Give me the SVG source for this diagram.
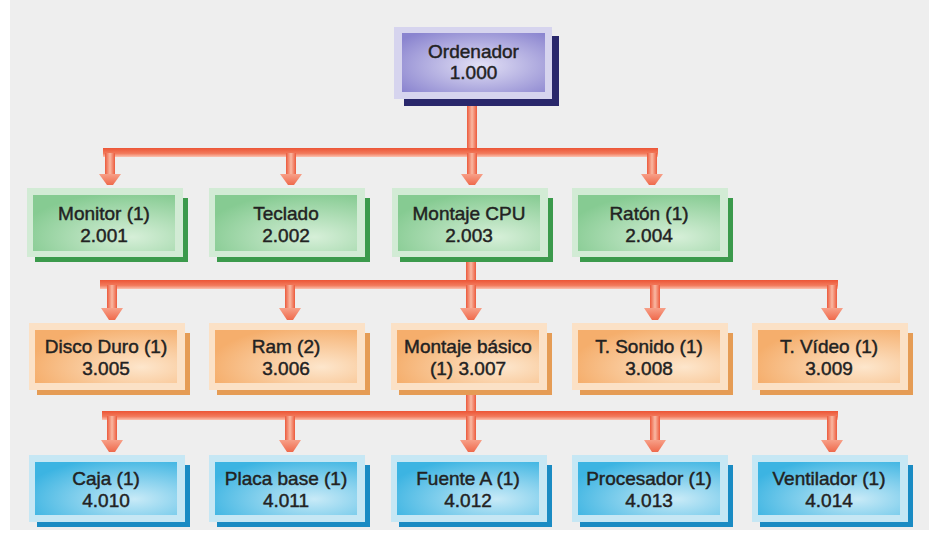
<svg xmlns="http://www.w3.org/2000/svg" width="929" height="535" viewBox="0 0 929 535">
<defs>
<radialGradient id="gP" cx="0.55" cy="0.55" r="0.7"><stop offset="0" stop-color="#e2e0f5"/><stop offset="1" stop-color="#8a84cf"/></radialGradient>
<radialGradient id="gG" cx="0.7" cy="0.75" r="0.8"><stop offset="0" stop-color="#d6efd8"/><stop offset="1" stop-color="#86cb92"/></radialGradient>
<radialGradient id="gO" cx="0.75" cy="0.7" r="0.8"><stop offset="0" stop-color="#fde6cc"/><stop offset="1" stop-color="#f5ae6c"/></radialGradient>
<radialGradient id="gB" cx="0.7" cy="0.7" r="0.8"><stop offset="0" stop-color="#c8eaf7"/><stop offset="1" stop-color="#3cb4e2"/></radialGradient>
<linearGradient id="gH" x1="0" y1="0" x2="0" y2="1"><stop offset="0" stop-color="#ec5536"/><stop offset="0.6" stop-color="#f27a5c"/><stop offset="1" stop-color="#fbc2b0"/></linearGradient>
<linearGradient id="gV" x1="0" y1="0" x2="1" y2="0"><stop offset="0" stop-color="#ec5a3c"/><stop offset="0.5" stop-color="#f9b8a2"/><stop offset="1" stop-color="#ec5a3c"/></linearGradient>
<linearGradient id="gA" x1="0" y1="0" x2="0" y2="1"><stop offset="0" stop-color="#f7a088"/><stop offset="1" stop-color="#ef6a4c"/></linearGradient>
</defs>
<style>
.t{font-family:"Liberation Sans",Arial,sans-serif;font-size:19px;fill:#222222;stroke:#222222;stroke-width:0.45;text-anchor:middle}
.sP{fill:#29276b}.fP{fill:#d6d4ee}.iP{fill:url(#gP)}
.sG{fill:#3b9a4c}.fG{fill:#d2ebd5}.iG{fill:url(#gG)}
.sO{fill:#e59c55}.fO{fill:#fbe1c6}.iO{fill:url(#gO)}
.sB{fill:#1a8bc3}.fB{fill:#c6e7f4}.iB{fill:url(#gB)}
.bar{fill:url(#gH)}.drop{fill:url(#gV)}.head{fill:url(#gA)}
</style>
<rect x="0" y="0" width="929" height="535" fill="#ffffff"/>
<rect x="10" y="0" width="919" height="530" fill="#eeeeee"/>

<g id="connectors">
<rect class="drop" x="467" y="99" width="10" height="55"/>
<rect class="bar" x="103" y="148" width="555" height="9"/>
<rect class="drop" x="105" y="153" width="10" height="21"/>
<rect class="drop" x="286" y="153" width="10" height="21"/>
<rect class="drop" x="467" y="153" width="10" height="21"/>
<rect class="drop" x="647" y="153" width="10" height="21"/>
<polygon class="head" points="99,174 121,174 113,185 107,185"/>
<polygon class="head" points="280,174 302,174 294,185 288,185"/>
<polygon class="head" points="461,174 483,174 475,185 469,185"/>
<polygon class="head" points="641,174 663,174 655,185 649,185"/>
<rect class="drop" x="466" y="262" width="10" height="24"/>
<rect class="bar" x="100" y="280" width="738" height="9"/>
<rect class="drop" x="107" y="285" width="10" height="23"/>
<rect class="drop" x="285" y="285" width="10" height="23"/>
<rect class="drop" x="466" y="285" width="10" height="23"/>
<rect class="drop" x="650" y="285" width="10" height="23"/>
<rect class="drop" x="827" y="285" width="10" height="23"/>
<polygon class="head" points="101,308 123,308 115,320 109,320"/>
<polygon class="head" points="279,308 301,308 293,320 287,320"/>
<polygon class="head" points="460,308 482,308 474,320 468,320"/>
<polygon class="head" points="644,308 666,308 658,320 652,320"/>
<polygon class="head" points="821,308 843,308 835,320 829,320"/>
<rect class="drop" x="466" y="394" width="10" height="23"/>
<rect class="bar" x="102" y="411" width="736" height="9"/>
<rect class="drop" x="107" y="416" width="10" height="24"/>
<rect class="drop" x="285" y="416" width="10" height="24"/>
<rect class="drop" x="466" y="416" width="10" height="24"/>
<rect class="drop" x="650" y="416" width="10" height="24"/>
<rect class="drop" x="827" y="416" width="10" height="24"/>
<polygon class="head" points="101,440 123,440 115,452 109,452"/>
<polygon class="head" points="279,440 301,440 293,452 287,452"/>
<polygon class="head" points="460,440 482,440 474,452 468,452"/>
<polygon class="head" points="644,440 666,440 658,452 652,452"/>
<polygon class="head" points="821,440 843,440 835,452 829,452"/>
</g>

<g id="n1000" transform="translate(402,33)">
<rect class="sP" x="2" y="3" width="155" height="70"/>
<rect class="fP" x="-8" y="-6" width="158" height="72"/>
<rect class="iP" x="0" y="0" width="143" height="59"/>
<text class="t" x="71.5" y="25">Ordenador</text>
<text class="t" x="71.5" y="46">1.000</text>
</g>

<g id="n2001" transform="translate(33,195)">
<rect class="sG" x="2" y="3" width="153" height="64"/>
<rect class="fG" x="-6" y="-7" width="156" height="69"/>
<rect class="iG" x="0" y="0" width="142" height="56"/>
<text class="t" x="71" y="25">Monitor (1)</text>
<text class="t" x="71" y="47">2.001</text>
</g>
<g id="n2002" transform="translate(215,195)">
<rect class="sG" x="2" y="3" width="153" height="64"/>
<rect class="fG" x="-6" y="-7" width="156" height="69"/>
<rect class="iG" x="0" y="0" width="142" height="56"/>
<text class="t" x="71" y="25">Teclado</text>
<text class="t" x="71" y="47">2.002</text>
</g>
<g id="n2003" transform="translate(398,195)">
<rect class="sG" x="2" y="3" width="153" height="64"/>
<rect class="fG" x="-6" y="-7" width="156" height="69"/>
<rect class="iG" x="0" y="0" width="142" height="56"/>
<text class="t" x="71" y="25">Montaje CPU</text>
<text class="t" x="71" y="47">2.003</text>
</g>
<g id="n2004" transform="translate(578,195)">
<rect class="sG" x="2" y="3" width="153" height="64"/>
<rect class="fG" x="-6" y="-7" width="156" height="69"/>
<rect class="iG" x="0" y="0" width="142" height="56"/>
<text class="t" x="71" y="25">Ratón (1)</text>
<text class="t" x="71" y="47">2.004</text>
</g>

<g id="n3005" transform="translate(35,330)">
<rect class="sO" x="2" y="3" width="153" height="62"/>
<rect class="fO" x="-6" y="-7" width="156" height="67"/>
<rect class="iO" x="0" y="0" width="142" height="53"/>
<text class="t" x="71" y="23">Disco Duro (1)</text>
<text class="t" x="71" y="45">3.005</text>
</g>
<g id="n3006" transform="translate(215,330)">
<rect class="sO" x="2" y="3" width="153" height="62"/>
<rect class="fO" x="-6" y="-7" width="156" height="67"/>
<rect class="iO" x="0" y="0" width="142" height="53"/>
<text class="t" x="71" y="23">Ram (2)</text>
<text class="t" x="71" y="45">3.006</text>
</g>
<g id="n3007" transform="translate(397,330)">
<rect class="sO" x="2" y="3" width="153" height="62"/>
<rect class="fO" x="-6" y="-7" width="156" height="67"/>
<rect class="iO" x="0" y="0" width="142" height="53"/>
<text class="t" x="71" y="23">Montaje básico</text>
<text class="t" x="71" y="45">(1) 3.007</text>
</g>
<g id="n3008" transform="translate(578,330)">
<rect class="sO" x="2" y="3" width="153" height="62"/>
<rect class="fO" x="-6" y="-7" width="156" height="67"/>
<rect class="iO" x="0" y="0" width="142" height="53"/>
<text class="t" x="71" y="23">T. Sonido (1)</text>
<text class="t" x="71" y="45">3.008</text>
</g>
<g id="n3009" transform="translate(758,330)">
<rect class="sO" x="2" y="3" width="153" height="62"/>
<rect class="fO" x="-6" y="-7" width="156" height="67"/>
<rect class="iO" x="0" y="0" width="142" height="53"/>
<text class="t" x="71" y="23">T. Vídeo (1)</text>
<text class="t" x="71" y="45">3.009</text>
</g>

<g id="n4010" transform="translate(35,462)">
<rect class="sB" x="2" y="3" width="153" height="62"/>
<rect class="fB" x="-6" y="-7" width="156" height="67"/>
<rect class="iB" x="0" y="0" width="142" height="53"/>
<text class="t" x="71" y="23">Caja (1)</text>
<text class="t" x="71" y="45">4.010</text>
</g>
<g id="n4011" transform="translate(215,462)">
<rect class="sB" x="2" y="3" width="153" height="62"/>
<rect class="fB" x="-6" y="-7" width="156" height="67"/>
<rect class="iB" x="0" y="0" width="142" height="53"/>
<text class="t" x="71" y="23">Placa base (1)</text>
<text class="t" x="71" y="45">4.011</text>
</g>
<g id="n4012" transform="translate(397,462)">
<rect class="sB" x="2" y="3" width="153" height="62"/>
<rect class="fB" x="-6" y="-7" width="156" height="67"/>
<rect class="iB" x="0" y="0" width="142" height="53"/>
<text class="t" x="71" y="23">Fuente A (1)</text>
<text class="t" x="71" y="45">4.012</text>
</g>
<g id="n4013" transform="translate(578,462)">
<rect class="sB" x="2" y="3" width="153" height="62"/>
<rect class="fB" x="-6" y="-7" width="156" height="67"/>
<rect class="iB" x="0" y="0" width="142" height="53"/>
<text class="t" x="71" y="23">Procesador (1)</text>
<text class="t" x="71" y="45">4.013</text>
</g>
<g id="n4014" transform="translate(758,462)">
<rect class="sB" x="2" y="3" width="153" height="62"/>
<rect class="fB" x="-6" y="-7" width="156" height="67"/>
<rect class="iB" x="0" y="0" width="142" height="53"/>
<text class="t" x="71" y="23">Ventilador (1)</text>
<text class="t" x="71" y="45">4.014</text>
</g>
</svg>
